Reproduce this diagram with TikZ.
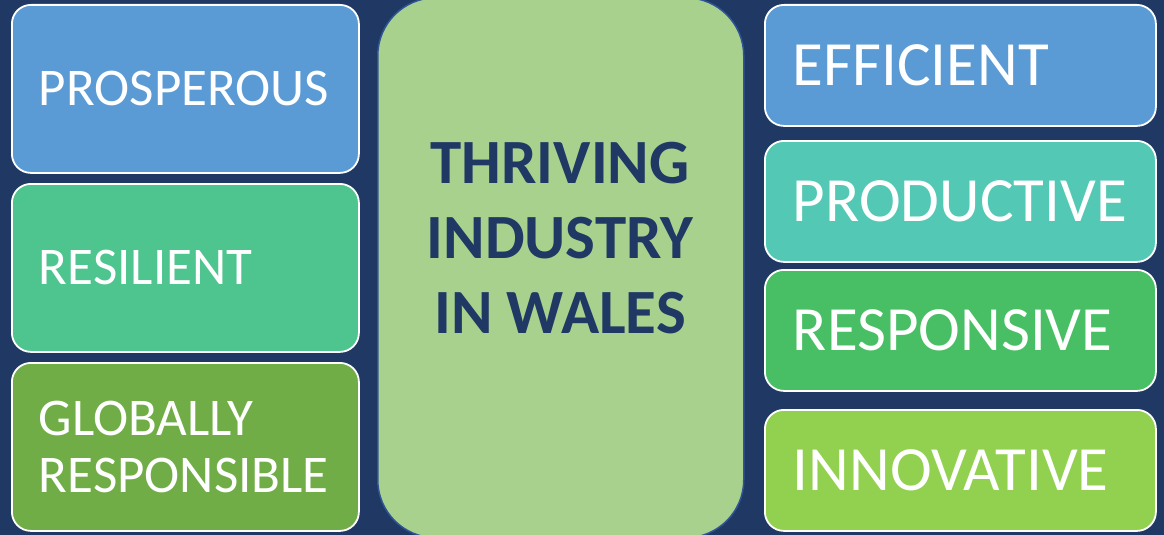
\documentclass[tikz,border=0pt]{standalone}
\usepackage{fontspec}
\setmainfont{Carlito}
\definecolor{bgnavy}{HTML}{1F3864}
\definecolor{cblue}{HTML}{5B9BD5}
\definecolor{cmint}{HTML}{4EC48E}
\definecolor{cteal}{HTML}{53C9B5}
\definecolor{cgreen}{HTML}{48BF64}
\definecolor{colive}{HTML}{70AD47}
\definecolor{clime}{HTML}{92D050}
\definecolor{ccenter}{HTML}{A9D18E}
\definecolor{cborder}{HTML}{2F5597}
\definecolor{ctext}{HTML}{203864}
\begin{document}
\begin{tikzpicture}[x=1pt,y=-1pt,
  box/.style={draw=white, line width=1.8pt, rounded corners=19pt, text=white,
    anchor=north west, inner ysep=0pt, align=left},
  leftbox/.style={box, inner xsep=27pt, text width=293pt, minimum height=168pt,
    font=\fontsize{53}{57}\selectfont},
  rightbox/.style={box, inner xsep=28pt, text width=335pt, minimum height=121pt,
    font=\fontsize{63}{65}\selectfont}]
\fill[bgnavy] (0,0) rectangle (1164,535);
\useasboundingbox (0,0) rectangle (1164,535);
% centre
\node[draw=cborder, line width=1.5pt, fill=ccenter, rounded corners=58pt,
  minimum width=366pt, minimum height=540pt, anchor=north west, inner sep=0pt]
  (centre) at (377,-3) {};
\node[text=ctext, align=center, font=\bfseries\fontsize{63}{75}\selectfont]
  (centretext) at (560,238) {THRIVING\\INDUSTRY\\IN WALES};
% left column
\node[leftbox, fill=cblue] (prosperous) at (11,4) {PROSPEROUS};
\node[leftbox, fill=cmint] (resilient) at (11,183) {RESILIENT};
\node[leftbox, fill=colive] (global) at (11,362) {GLOBALLY\\RESPONSIBLE};
% right column
\node[rightbox, fill=cblue] (efficient) at (764,4) {EFFICIENT};
\node[rightbox, fill=cteal] (productive) at (764,140) {PRODUCTIVE};
\node[rightbox, fill=cgreen] (responsive) at (764,269) {RESPONSIVE};
\node[rightbox, fill=clime] (innovative) at (764,409) {INNOVATIVE};
\end{tikzpicture}
\end{document}
